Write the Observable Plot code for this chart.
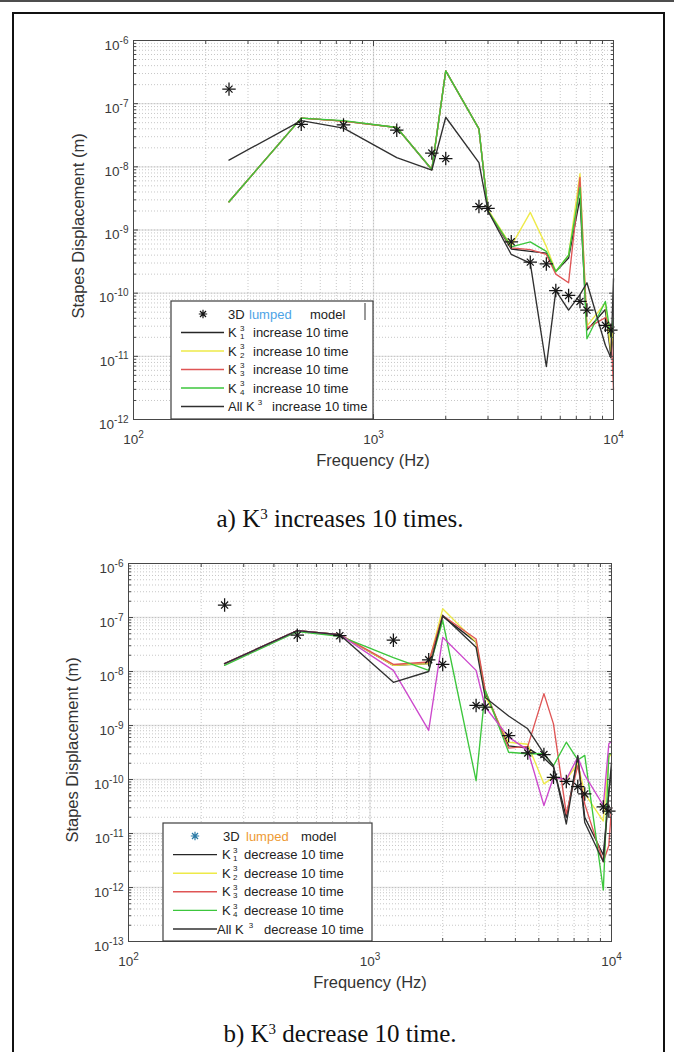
<!DOCTYPE html>
<html>
<head>
<meta charset="utf-8">
<title>Stapes displacement vs frequency</title>
<script src="https://cdn.jsdelivr.net/npm/d3@7"></script>
<script src="https://cdn.jsdelivr.net/npm/@observablehq/plot@0.6"></script>
<style>
  html, body { margin: 0; padding: 0; background: #fff; }
  body { position: relative; width: 674px; height: 1052px; overflow: hidden; }
  .topline { position: absolute; left: 0; top: 0; width: 674px; height: 2px; background: #4d4d4d; }
  .frame { position: absolute; left: 12px; top: 12px; width: 653px; height: 1060px; border: 2px solid #111; box-sizing: border-box; }
  .panel { position: absolute; left: 0; }
  .caption { position: absolute; left: 0; width: 680px; text-align: center; font-family: "Liberation Serif", "Times New Roman", serif; font-size: 25px; line-height: 25px; color: #111; }
  .caption sup { font-size: 15px; line-height: 0; vertical-align: 0.55em; }
</style>
</head>
<body>
<div class="topline"></div>
<div class="frame"></div>
<div class="panel" id="panel-a" style="top:0px"></div>
<div class="caption" style="top:506px">a) K<sup>3</sup> increases 10 times.</div>
<div class="panel" id="panel-b" style="top:520px"></div>
<div class="caption" style="top:1021px">b) K<sup>3</sup> decrease 10 time.</div>
<script>
// Frequencies (Hz) at which the simulated responses are sampled
const freq = [250, 500, 750, 1250, 1750, 2000, 2750, 3000, 3750, 4500, 5250, 5750, 6500, 7250, 7750, 9250, 9750, 10000];

// 3D lumped model response
const lumpedFreq = [250, 500, 750, 1250, 1750, 2000, 2750, 3000, 3750, 4500, 5250, 5750, 6500, 7250, 7750, 9250, 9750];
const lumpedDisp = [1.7e-7, 4.7e-8, 4.6e-8, 3.8e-8, 1.65e-8, 1.35e-8, 2.35e-9, 2.2e-9, 6.5e-10, 3.1e-10, 2.9e-10, 1.1e-10, 9.2e-11, 7.4e-11, 5.4e-11, 3.1e-11, 2.6e-11];

// a) K3 stiffness terms increased 10 times (stapes displacement, m)
const incK1 = [2.8e-9, 5.9e-8, 5.3e-8, 4.2e-8, 9.0e-9, 3.3e-7, 4.0e-8, 2.0e-9, 5.0e-10, 4.6e-10, 4.3e-10, 2.2e-10, 3.6e-10, 3.2e-9, 2.6e-11, 5.5e-11, 1.0e-11, 2.5e-11];
const incK2 = [2.8e-9, 5.9e-8, 5.3e-8, 4.2e-8, 9.1e-9, 3.3e-7, 4.0e-8, 2.1e-9, 5.6e-10, 1.9e-9, 5.5e-10, 2.2e-10, 4.0e-10, 7.8e-9, 3.0e-11, 7.0e-11, 1.2e-11, 3.0e-11];
const incK3 = [2.8e-9, 5.9e-8, 5.3e-8, 4.2e-8, 9.1e-9, 3.3e-7, 4.0e-8, 2.0e-9, 5.2e-10, 4.9e-10, 4.1e-10, 2.0e-10, 1.46e-10, 6.8e-9, 2.8e-11, 4.1e-11, 3.0e-11, 3.0e-12];
const incK4 = [2.8e-9, 5.9e-8, 5.4e-8, 4.2e-8, 9.1e-9, 3.3e-7, 4.0e-8, 2.0e-9, 5.4e-10, 6.5e-10, 4.6e-10, 2.2e-10, 4.0e-10, 4.7e-9, 1.9e-11, 7.4e-11, 2.0e-11, 4.0e-11];
const incAll = [1.28e-8, 5.4e-8, 4.1e-8, 1.4e-8, 8.9e-9, 6.1e-8, 1.17e-8, 2.0e-9, 4.1e-10, 3.0e-10, 6.9e-12, 1.1e-10, 5.4e-11, 9.5e-11, 1.46e-10, 1.5e-11, 9.5e-12, 1.7e-10];

// b) K3 stiffness terms decreased 10 times (stapes displacement, m)
const decK1 = [1.4e-8, 5.7e-8, 4.8e-8, 1.3e-8, 1.4e-8, 1.05e-7, 3.5e-8, 4.0e-9, 4.2e-10, 3.8e-10, 2.5e-10, 1.7e-10, 2.0e-11, 2.6e-10, 2.0e-11, 4.0e-12, 6.0e-11, 2.0e-10];
const decK2 = [1.4e-8, 5.7e-8, 4.8e-8, 1.3e-8, 1.4e-8, 1.45e-7, 3.5e-8, 3.5e-9, 4.9e-10, 4.5e-10, 8.3e-11, 1.1e-10, 1.0e-10, 2.0e-10, 5.5e-11, 1.7e-11, 2.6e-10, 3.0e-10];
const decK3 = [1.4e-8, 5.7e-8, 4.8e-8, 1.35e-8, 1.5e-8, 1.09e-7, 4.0e-8, 4.5e-9, 3.8e-10, 4.1e-10, 3.9e-9, 1.07e-9, 2.3e-11, 1.8e-10, 3.5e-11, 3.0e-12, 6.0e-12, 3.0e-11];
const decK4 = [1.3e-8, 5.5e-8, 4.5e-8, 1.8e-8, 1.05e-8, 8.8e-8, 9.5e-11, 4.5e-9, 3.2e-10, 3.0e-10, 3.0e-10, 1.8e-10, 4.9e-10, 2.3e-10, 2.8e-10, 9.0e-13, 3.0e-10, 3.0e-10];
const decMag = [1.4e-8, 5.7e-8, 4.8e-8, 1.05e-8, 8.1e-10, 4.3e-8, 1.05e-8, 2.2e-9, 6.1e-10, 3.5e-10, 3.3e-11, 1.1e-10, 1.0e-10, 2.6e-10, 1.2e-10, 3.3e-11, 4.6e-10, 5.0e-10];
const decAll = [1.4e-8, 5.7e-8, 4.8e-8, 6.3e-9, 1.0e-8, 1.09e-7, 2.8e-8, 3.3e-9, 1.5e-9, 8.7e-10, 3.0e-10, 1.8e-10, 1.5e-11, 2.8e-10, 1.6e-11, 3.0e-12, 5.8e-11, 1.5e-10];

// Decade exponents used for ticks and labels
const xTickExp = [2, 3, 4];
const yTickExpA = [-12, -11, -10, -9, -8, -7, -6];
const yTickExpB = [-13, -12, -11, -10, -9, -8, -7, -6];

const FONT = '"Liberation Sans", Arial, Helvetica, sans-serif';
const AXIS = "#474747";
const C = {black: "#262626", yellow: "#eeea48", red: "#df5555", green: "#3cc63c", magenta: "#cc48cc", all: "#303030"};

function minorTicks(exps) {
  const out = [];
  for (let i = 0; i < exps.length - 1; i++) for (let d = 2; d <= 9; d++) out.push(d * 10 ** exps[i]);
  return out;
}

function drawStar(g, x, y, r, color) {
  const d = r * 0.72;
  const p = `M${x - r},${y}H${x + r}M${x},${y - r}V${y + r}M${x - d},${y - d}L${x + d},${y + d}M${x - d},${y + d}L${x + d},${y - d}`;
  g.append("path").attr("d", p).attr("stroke", color).attr("stroke-width", 1.2).attr("fill", "none");
}

function panel(cfg) {
  const xMajor = xTickExp.map(e => 10 ** e);
  const yMajor = cfg.yExp.map(e => 10 ** e);
  const xMinor = minorTicks(xTickExp);
  const yMinor = minorTicks(cfg.yExp);
  const rows = cfg.series.flatMap(s => s.values.map((v, i) => ({f: freq[i], v, name: s.name})));
  const stars = lumpedFreq.map((f, i) => ({f, v: lumpedDisp[i]}));
  const dotted = {stroke: "#b9b9b9", strokeDasharray: "1,2", strokeWidth: 0.8};
  const major = {stroke: "#e3e3e3", strokeWidth: 1.3};
  const expLabel = d => String(Math.round(Math.log10(d)));
  const blank = () => "";
  const tickAxesX = ["bottom", "top"].flatMap(anchor => [
    Plot.axisX({anchor, ticks: xMajor, tickSize: -5, tickFormat: blank, label: null, stroke: AXIS}),
    Plot.axisX({anchor, ticks: xMinor, tickSize: -3, tickFormat: blank, label: null, stroke: AXIS})
  ]);
  const tickAxesY = ["left", "right"].flatMap(anchor => [
    Plot.axisY({anchor, ticks: yMajor, tickSize: -5, tickFormat: blank, label: null, stroke: AXIS}),
    Plot.axisY({anchor, ticks: yMinor, tickSize: -3, tickFormat: blank, label: null, stroke: AXIS})
  ]);

  const svg = Plot.plot({
    width: 674,
    height: cfg.height,
    marginLeft: cfg.m[0], marginRight: cfg.m[1], marginTop: cfg.m[2], marginBottom: cfg.m[3],
    style: {fontFamily: FONT, fontSize: "13.5px", color: "#3a3a3a", background: "transparent", overflow: "visible"},
    x: {type: "log", domain: [xMajor[0], xMajor[xMajor.length - 1]]},
    y: {type: "log", domain: [yMajor[0], yMajor[yMajor.length - 1]]},
    color: {type: "ordinal", domain: cfg.series.map(s => s.name), range: cfg.series.map(s => s.color)},
    marks: [
      Plot.ruleX(xMajor.slice(1, -1), major),
      Plot.ruleY(yMajor.slice(1, -1), major),
      Plot.ruleX(xMinor.concat(xMajor.slice(1, -1)), dotted),
      Plot.ruleY(yMinor.concat(yMajor.slice(1, -1)), dotted),
      Plot.line(rows, {x: "f", y: "v", z: "name", stroke: "name", strokeWidth: 1.35}),
      Plot.dot(stars, {x: "f", y: "v", symbol: "plus", r: 4.4, stroke: "#151515", strokeWidth: 1.25}),
      Plot.dot(stars, {x: "f", y: "v", symbol: "times", r: 3.3, stroke: "#151515", strokeWidth: 1.25}),
      Plot.frame({stroke: AXIS, strokeWidth: 1}),
      ...tickAxesX,
      ...tickAxesY,
      Plot.axisX({anchor: "bottom", ticks: xMajor, tickSize: 0, tickPadding: 15, tickFormat: expLabel, label: null}),
      Plot.axisY({anchor: "left", ticks: yMajor, tickSize: 0, tickPadding: 5, tickFormat: expLabel, label: null})
    ]
  });

  const root = d3.select(svg);
  // powers of ten: "10" with a raised exponent
  root.selectAll('g[aria-label="x-axis tick label"] text, g[aria-label="y-axis tick label"] text').each(function () {
    const e = this.textContent;
    if (!e) return;
    const t = d3.select(this).text("10");
    t.append("tspan").attr("dy", "-0.62em").attr("font-size", "10px").text(e);
  });
  root.selectAll('g[aria-label="y-axis tick label"] text').attr("dy", 5);

  // axis titles
  const titles = root.append("g").attr("font-family", FONT).attr("font-size", "16.5px").attr("fill", "#333").attr("text-anchor", "middle");
  titles.append("text")
    .attr("transform", `translate(${cfg.yTitle[0]},${cfg.yTitle[1]}) rotate(-90)`)
    .text("Stapes Displacement (m)");
  titles.append("text")
    .attr("x", cfg.xTitle[0]).attr("y", cfg.xTitle[1])
    .text("Frequency (Hz)");

  // legend
  const L = cfg.legend;
  const lg = root.append("g").attr("font-family", FONT).attr("font-size", "13px").attr("fill", "#222").attr("text-anchor", "start");
  lg.append("rect")
    .attr("x", L.box[0]).attr("y", L.box[1])
    .attr("width", L.box[2] - L.box[0]).attr("height", L.box[3] - L.box[1])
    .attr("fill", "#fff").attr("stroke", "#3e3e3e").attr("stroke-width", 1.2);
  if (L.bar) {
    lg.append("line").attr("x1", L.bar[0]).attr("x2", L.bar[0]).attr("y1", L.bar[1]).attr("y2", L.bar[2])
      .attr("stroke", "#555").attr("stroke-width", 1.2);
  }
  drawStar(lg, L.markX, L.row0, 4.2, L.starColor);
  const base = y => y + 4.6;
  lg.append("text").attr("x", L.modelX[0]).attr("y", base(L.row0)).text("3D");
  lg.append("text").attr("x", L.modelX[1]).attr("y", base(L.row0)).attr("fill", L.lumpedColor).text("lumped");
  lg.append("text").attr("x", L.modelX[2]).attr("y", base(L.row0)).text("model");
  cfg.series.filter(s => s.legend).forEach((s, i) => {
    const y = L.row0 + (i + 1) * L.step;
    lg.append("line").attr("x1", L.line[0]).attr("x2", L.line[1]).attr("y1", y).attr("y2", y)
      .attr("stroke", s.color).attr("stroke-width", 1.4);
    if (s.index) {
      lg.append("text").attr("x", L.kX).attr("y", base(y)).text("K");
      lg.append("text").attr("x", L.supX).attr("y", base(y) - 6.5).attr("font-size", "8px").text("3");
      lg.append("text").attr("x", L.supX).attr("y", base(y) + 2).attr("font-size", "8px").text(s.index);
      lg.append("text").attr("x", L.verbX).attr("y", base(y)).text(`${cfg.verb} 10 time`);
    } else {
      const t = lg.append("text").attr("x", L.allX).attr("y", base(y));
      t.append("tspan").text("All K");
      t.append("tspan").attr("dx", L.allSupDx).attr("dy", -6).attr("font-size", "8px").text("3");
      lg.append("text").attr("x", L.allVerbX).attr("y", base(y)).text(`${cfg.verb} 10 time`);
    }
  });

  document.getElementById(cfg.id).append(svg);
}

panel({
  id: "panel-a",
  height: 480,
  m: [133, 61, 40, 61],
  yExp: yTickExpA,
  verb: "increase",
  series: [
    {name: "K1", color: C.black, values: incK1, legend: true, index: "1"},
    {name: "K2", color: C.yellow, values: incK2, legend: true, index: "2"},
    {name: "K3", color: C.red, values: incK3, legend: true, index: "3"},
    {name: "K4", color: C.green, values: incK4, legend: true, index: "4"},
    {name: "All", color: C.all, values: incAll, legend: true}
  ],
  yTitle: [84, 226],
  xTitle: [373, 466],
  legend: {
    box: [171, 301, 373, 419], bar: [365, 303, 320],
    row0: 314, step: 18.5, line: [181, 224], markX: 203, starColor: "#151515",
    modelX: [228, 249, 310], lumpedColor: "#4da3e6",
    kX: 228, supX: 240, verbX: 253,
    allX: 228, allSupDx: 3, allVerbX: 272
  }
});

panel({
  id: "panel-b",
  height: 480,
  m: [128, 63, 43, 59],
  yExp: yTickExpB,
  verb: "decrease",
  series: [
    {name: "K1", color: C.black, values: decK1, legend: true, index: "1"},
    {name: "K2", color: C.yellow, values: decK2, legend: true, index: "2"},
    {name: "K3", color: C.red, values: decK3, legend: true, index: "3"},
    {name: "K4", color: C.green, values: decK4, legend: true, index: "4"},
    {name: "M", color: C.magenta, values: decMag, legend: false},
    {name: "All", color: C.all, values: decAll, legend: true}
  ],
  yTitle: [78, 230],
  xTitle: [370, 468],
  legend: {
    box: [163, 303, 372, 421],
    row0: 316, step: 18.6, line: [173, 217], markX: 195, starColor: "#2a7aa6",
    modelX: [223, 246, 301], lumpedColor: "#ee9a33",
    kX: 222, supX: 233, verbX: 244,
    allX: 217, allSupDx: 5, allVerbX: 264
  }
});
</script>
</body>
</html>
